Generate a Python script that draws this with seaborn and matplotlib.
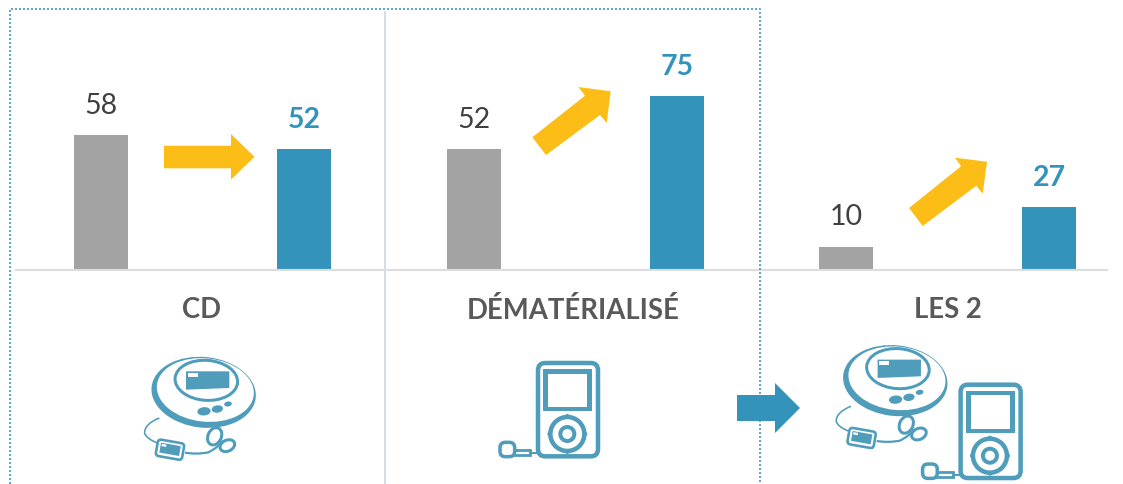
import numpy as np
import pandas as pd
import matplotlib
matplotlib.use("Agg")
import matplotlib.pyplot as plt
from matplotlib.patches import Ellipse, FancyBboxPatch, Polygon, Rectangle, Circle, PathPatch
from matplotlib.path import Path
from matplotlib.transforms import Affine2D
import seaborn as sns

sns.set_theme(style="white")
plt.rcParams["font.family"] = ["Lato", "DejaVu Sans"]

# ---- data
panels = ["CD", "DÉMATÉRIALISÉ", "LES 2"]
periods = ["Avant", "Après"]
values_cd = [58, 52]
values_dem = [52, 75]
values_both = [10, 27]

GREY, BLUE, YELLOW = "#A3A3A3", "#3393BA", "#FCBE16"
ICON = "#4F9CBB"
W, H = 1123, 485
BASE_Y = 271.0
PX_PER_UNIT = 2.32
SPACING = 203.0
BAR_W = 54.0

fig = plt.figure(figsize=(W / 100, H / 100), dpi=100, facecolor="white")

# (left px, right px, px of first bar centre, px of title shift)
layout = [(16, 385, 101, -1), (385, 761, 474, -2), (761, 1107, 846, 0)]
series = [values_cd, values_dem, values_both]

for title, vals, (l, r, c0, dx) in zip(panels, series, layout):
    ax = fig.add_axes([l / W, 1 - BASE_Y / H, (r - l) / W, BASE_Y / H])
    df = pd.DataFrame({"periode": periods, "valeur": vals})
    sns.barplot(data=df, x="periode", y="valeur", hue="periode", order=periods,
                hue_order=periods, palette=[GREY, BLUE], width=BAR_W / SPACING,
                saturation=1, legend=False, ax=ax, linewidth=0)
    ax.set_xlim((l - c0) / SPACING, (r - c0) / SPACING)
    ax.set_ylim(0, BASE_Y / PX_PER_UNIT)
    ax.set_xlabel("")
    ax.set_ylabel("")
    ax.set_xticks([])
    ax.set_yticks([])
    ax.patch.set_alpha(0)
    for s in ["top", "left", "right"]:
        ax.spines[s].set_visible(False)
    ax.spines["bottom"].set_color("#DDDDDD")
    ax.spines["bottom"].set_linewidth(1.5)
    ax.bar_label(ax.containers[0], fmt="%d", padding=12.5, fontsize=20.5, color="#404040")
    ax.bar_label(ax.containers[1], fmt="%d", padding=12.5, fontsize=20.5, color=BLUE,
                 fontweight="bold")
    ax.annotate(title, xy=(0.5, 0), xycoords=("data", "axes fraction"),
                xytext=(dx * 0.72, -(310.5 - BASE_Y) * 0.72), textcoords="offset points",
                ha="center", va="center", fontsize=19.8, fontweight="bold",
                color="#595959")

# ---- overlay in pixel space for decoration
ov = fig.add_axes([0, 0, 1, 1], zorder=5)
ov.set_xlim(0, W)
ov.set_ylim(H, 0)
ov.axis("off")
ov.patch.set_alpha(0)

PT = 0.72  # points per pixel
ov.plot([384.7, 384.7], [12, 485], color="#D3DEEC", lw=2 * PT, solid_capstyle="butt", zorder=1)
ov.plot([9.5, 9.5, 760, 760], [485, 9.5, 9.5, 485], color="#5FAACB", lw=2 * PT,
        linestyle=(0, (1, 1)), zorder=1)

arrows = [
    [(164, 146.7), (231, 146.7), (231, 135), (254.5, 157.8), (231, 180.7), (231, 169.3), (164, 169.3)],
    [(532.3, 138.3), (585, 96.7), (578.3, 88), (610.7, 92.3), (606.7, 124), (600, 116), (546, 156)],
    [(909, 209), (961, 167.3), (955, 158.7), (987, 162.7), (982.7, 194.7), (976.3, 186.7), (922.7, 227)],
]
for pts in arrows:
    ov.add_patch(Polygon(pts, closed=True, fc=YELLOW, ec="none", zorder=3))
ov.add_patch(Polygon([(737, 396), (775, 396), (775, 384), (800, 409), (775, 434), (775, 422), (737, 422)],
                     closed=True, fc=BLUE, ec="none", zorder=3))


def cd_icon(ox, oy):
    """Hand-placed icon; local units are 1/3 px, origin in pixels."""
    tr = Affine2D().scale(1 / 3).translate(ox, oy) + ov.transData

    def add(p):
        p.set_transform(tr)
        p.set_zorder(4)
        ov.add_patch(p)

    def curve(pts, width):
        codes = [Path.MOVETO] + [Path.CURVE3] * (len(pts) - 1)
        add(PathPatch(Path(pts, codes), fc="none", ec=ICON, lw=width))

    add(Ellipse((221, 145), 314, 212, angle=6, fc=ICON, ec="none"))
    add(Ellipse((226, 138), 292, 190, angle=6, fc="white", ec="none"))
    add(Ellipse((229, 109), 188, 120, angle=4, fc="white", ec=ICON, lw=3 * PT))
    add(Polygon([(168, 82), (298, 82), (298, 132), (168, 137)], closed=True, fc=ICON, ec="none"))
    add(Rectangle((173, 86), 30, 12, fc="white", ec="none"))
    add(Ellipse((222, 202), 40, 25, angle=-5, fc=ICON, ec="none"))
    add(Ellipse((262, 195), 34, 22, angle=-8, fc=ICON, ec="none"))
    add(Ellipse((294, 180), 23, 15, angle=-10, fc=ICON, ec="none"))
    curve([(88, 222), (42, 240), (44, 268), (50, 285), (85, 298)], 1.6 * PT)
    curve([(165, 326), (200, 332), (235, 325), (265, 310), (280, 290)], 2.2 * PT)
    rem = Affine2D().rotate_deg_around(120, 317, 10) + tr
    box = FancyBboxPatch((80, 292), 80, 50, boxstyle="round,pad=0,rounding_size=10",
                         fc="white", ec=ICON, lw=2.6 * PT, zorder=4, transform=rem)
    ov.add_patch(box)
    ov.add_patch(Rectangle((90, 301), 60, 30, fc=ICON, ec="none", zorder=4, transform=rem))
    ov.add_patch(Rectangle((93, 304), 14, 7, fc="white", ec="none", zorder=4, transform=rem))
    add(Ellipse((254, 277), 40, 54, angle=25, fc="white", ec=ICON, lw=3 * PT))
    add(Ellipse((292, 305), 46, 33, angle=-25, fc="white", ec=ICON, lw=3 * PT))


def player_icon(ox, oy):
    tr = Affine2D().scale(1 / 3).translate(ox, oy) + ov.transData

    def add(p):
        p.set_transform(tr)
        p.set_zorder(4)
        ov.add_patch(p)

    add(FancyBboxPatch((144, 42), 180, 280, boxstyle="round,pad=0,rounding_size=22",
                       fc="white", ec=ICON, lw=4.5 * PT))
    add(Rectangle((159, 60), 147, 126, fc=ICON, ec="none"))
    add(Rectangle((174, 74), 118, 100, fc="white", ec="none"))
    add(Circle((232, 255), 51, fc="white", ec=ICON, lw=4.5 * PT))
    add(Circle((232, 255), 21, fc="white", ec=ICON, lw=4 * PT))
    for dx, dy in [(0, -54), (0, 54), (-54, 0), (54, 0)]:
        add(Circle((232 + dx, 255 + dy), 6, fc=ICON, ec="none"))
    add(Rectangle((70, 303), 50, 15, fc="white", ec=ICON, lw=2.8 * PT))
    add(Rectangle((120, 309), 22, 6, fc=ICON, ec="none"))
    add(FancyBboxPatch((30, 280), 44, 43, boxstyle="round,pad=0,rounding_size=16",
                       fc="white", ec=ICON, lw=3.5 * PT))


cd_icon(130, 345)
cd_icon(821.6, 333.3)
player_icon(490, 350)
player_icon(912.6, 371.7)

fig.savefig("out.png", dpi=100, facecolor="white")
